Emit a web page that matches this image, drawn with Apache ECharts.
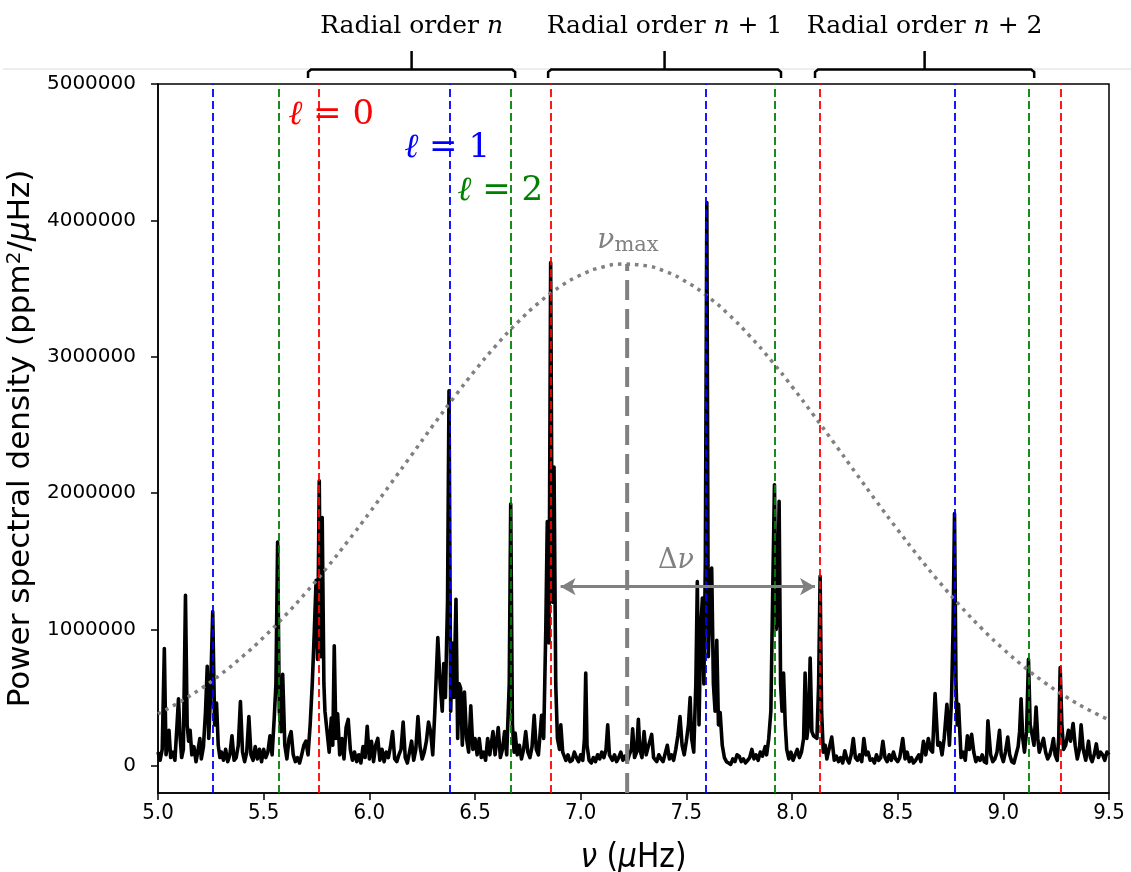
<!DOCTYPE html>
<html><head><meta charset="utf-8">
<script src="https://cdn.jsdelivr.net/npm/echarts@6/dist/echarts.min.js"></script>
<style>html,body{margin:0;padding:0;background:#fff;}#chart{width:1131px;height:872px;}</style>
</head><body><div id="chart"></div>
<script>
// ---- data ----
const spectrum = [
[5.000,10e4],[5.010,4e4],[5.020,12e4],[5.030,86e4],[5.038,8e4],[5.045,15e4],[5.052,26e4],[5.060,6e4],[5.070,10e4],[5.080,4e4],[5.090,30e4],[5.097,49e4],[5.105,20e4],[5.112,6e4],[5.120,12e4],[5.130,125e4],[5.138,30e4],[5.145,18e4],[5.152,26e4],[5.160,8e4],[5.170,14e4],[5.180,3e4],[5.190,12e4],[5.198,20e4],[5.205,5e4],[5.215,14e4],[5.225,40e4],[5.233,73e4],[5.240,20e4],[5.248,50e4],[5.259,113e4],[5.268,30e4],[5.277,46e4],[5.285,15e4],[5.293,6e4],[5.300,10e4],
[5.31,4e4],[5.32,12e4],[5.33,3e4],[5.34,8e4],[5.35,22e4],[5.36,4e4],[5.37,6e4],[5.38,15e4],[5.39,47e4],[5.40,10e4],[5.41,3e4],[5.42,10e4],[5.43,36e4],[5.44,8e4],[5.45,4e4],[5.46,14e4],[5.47,5e4],[5.48,12e4],[5.49,3e4],[5.50,12e4],[5.51,6e4],[5.52,10e4],[5.53,22e4],[5.54,8e4],[5.55,35e4],[5.558,60e4],[5.566,164e4],[5.574,40e4],[5.582,25e4],[5.59,67e4],[5.60,15e4],[5.61,5e4],[5.62,20e4],[5.63,25e4],[5.64,8e4],[5.65,3e4],[5.66,6e4],[5.67,2e4],[5.68,8e4],[5.69,15e4],[5.70,18e4],[5.71,8e4],[5.72,30e4],[5.73,60e4],[5.74,100e4],[5.748,136e4],[5.755,78e4],[5.763,209e4],[5.770,80e4],[5.777,182e4],[5.785,60e4],[5.79,40e4],[5.80,25e4],[5.81,10e4],[5.82,35e4],[5.827,15e4],[5.834,88e4],[5.842,20e4],[5.85,38e4],[5.86,8e4],[5.87,20e4],[5.88,5e4],[5.89,28e4],[5.90,34e4],[5.91,12e4],[5.92,4e4],[5.93,10e4],[5.94,3e4],[5.95,8e4],[5.96,2e4],[5.97,14e4],[5.98,6e4],[5.99,29e4],
[6.00,5e4],[6.01,18e4],[6.02,3e4],[6.03,15e4],[6.04,20e4],[6.05,4e4],[6.06,12e4],[6.07,3e4],[6.08,10e4],[6.09,6e4],[6.10,14e4],[6.11,25e4],[6.12,5e4],[6.13,3e4],[6.14,8e4],[6.15,12e4],[6.16,32e4],[6.17,6e4],[6.18,2e4],[6.19,10e4],[6.20,18e4],[6.21,4e4],[6.22,12e4],[6.23,36e4],[6.24,14e4],[6.25,5e4],[6.26,10e4],[6.27,18e4],[6.28,32e4],[6.29,25e4],[6.30,8e4],[6.31,40e4],[6.324,94e4],[6.335,60e4],[6.345,40e4],[6.352,75e4],[6.36,50e4],[6.37,120e4],[6.377,275e4],[6.385,40e4],[6.392,90e4],[6.40,50e4],[6.41,122e4],[6.418,20e4],[6.425,60e4],[6.432,57e4],[6.44,15e4],[6.45,54e4],[6.46,20e4],[6.47,10e4],[6.48,44e4],[6.49,12e4],[6.50,20e4],[6.51,8e4],[6.52,20e4],[6.53,6e4],[6.54,10e4],[6.55,4e4],[6.56,20e4],[6.57,8e4],[6.585,25e4],[6.595,8e4],[6.61,28e4],[6.62,6e4],[6.63,12e4],[6.64,25e4],[6.65,8e4],[6.662,60e4],[6.669,192e4],[6.677,30e4],[6.685,10e4],[6.69,24e4],[6.70,8e4],[6.71,15e4],[6.72,5e4],[6.73,12e4],[6.74,25e4],[6.75,10e4],[6.76,6e4],[6.77,14e4],[6.78,37e4],[6.79,12e4],[6.80,8e4],[6.815,37e4],[6.825,20e4],[6.835,100e4],[6.842,179e4],[6.85,90e4],[6.858,369e4],[6.866,120e4],[6.874,219e4],[6.882,60e4],[6.89,20e4],[6.90,12e4],[6.906,30e4],[6.915,10e4],[6.93,4e4],[6.94,8e4],[6.95,3e4],[6.96,4e4],[6.97,10e4],[6.98,6e4],[6.99,3e4],
[7.00,8e4],[7.01,4e4],[7.018,20e4],[7.024,68e4],[7.03,15e4],[7.04,4e4],[7.05,2e4],[7.06,6e4],[7.07,3e4],[7.08,8e4],[7.09,5e4],[7.10,10e4],[7.11,6e4],[7.12,12e4],[7.128,30e4],[7.136,8e4],[7.15,4e4],[7.16,8e4],[7.17,3e4],[7.18,6e4],[7.19,10e4],[7.20,4e4],[7.21,7e4],[7.22,3e4],[7.23,8e4],[7.24,12e4],[7.246,27e4],[7.255,6e4],[7.265,10e4],[7.273,34e4],[7.28,12e4],[7.29,6e4],[7.30,25e4],[7.31,8e4],[7.32,14e4],[7.336,23e4],[7.345,6e4],[7.36,3e4],[7.37,8e4],[7.38,5e4],[7.39,3e4],[7.40,9e4],[7.41,15e4],[7.42,5e4],[7.43,8e4],[7.44,4e4],[7.45,12e4],[7.46,22e4],[7.47,36e4],[7.48,15e4],[7.49,8e4],[7.50,18e4],[7.51,30e4],[7.518,50e4],[7.525,20e4],[7.535,10e4],[7.545,60e4],[7.552,135e4],[7.56,30e4],[7.568,100e4],[7.576,123e4],[7.583,60e4],[7.59,150e4],[7.597,413e4],[7.604,80e4],[7.612,120e4],[7.62,145e4],[7.628,60e4],[7.636,40e4],[7.644,92e4],[7.652,30e4],[7.66,39e4],[7.67,15e4],[7.68,6e4],[7.69,3e4],[7.70,2e4],[7.71,1e4],[7.72,5e4],[7.73,3e4],[7.74,8e4],[7.75,7e4],[7.76,3e4],[7.77,5e4],[7.78,2e4],[7.79,4e4],[7.80,6e4],[7.81,12e4],[7.82,5e4],[7.83,8e4],[7.84,4e4],[7.85,10e4],[7.86,7e4],[7.873,14e4],[7.88,8e4],[7.89,20e4],[7.90,40e4],[7.908,120e4],[7.917,206e4],[7.925,100e4],[7.932,110e4],[7.939,194e4],[7.946,60e4],[7.953,40e4],[7.96,68e4],[7.968,30e4],[7.975,12e4],[7.985,5e4],[7.995,10e4],
[8.005,4e4],[8.015,8e4],[8.025,12e4],[8.035,6e4],[8.045,10e4],[8.055,20e4],[8.062,68e4],[8.07,20e4],[8.078,30e4],[8.086,79e4],[8.094,25e4],[8.102,22e4],[8.11,22e4],[8.118,20e4],[8.126,60e4],[8.133,139e4],[8.14,40e4],[8.148,10e4],[8.157,15e4],[8.165,5e4],[8.175,12e4],[8.188,21e4],[8.20,4e4],[8.21,7e4],[8.22,3e4],[8.23,6e4],[8.24,2e4],[8.25,11e4],[8.26,5e4],[8.27,2e4],[8.28,8e4],[8.29,20e4],[8.30,6e4],[8.31,4e4],[8.32,8e4],[8.33,3e4],[8.34,20e4],[8.35,8e4],[8.36,10e4],[8.37,4e4],[8.38,5e4],[8.39,2e4],[8.40,8e4],[8.41,4e4],[8.42,6e4],[8.43,18e4],[8.44,6e4],[8.45,3e4],[8.46,8e4],[8.47,4e4],[8.48,10e4],[8.49,5e4],[8.50,3e4],[8.51,6e4],[8.524,20e4],[8.535,5e4],[8.545,10e4],[8.555,3e4],[8.565,6e4],[8.575,2e4],[8.585,4e4],[8.60,8e4],[8.61,3e4],[8.622,18e4],[8.633,8e4],[8.645,20e4],[8.655,12e4],[8.665,10e4],[8.677,53e4],[8.69,15e4],[8.70,17e4],[8.71,8e4],[8.72,20e4],[8.733,45e4],[8.745,15e4],[8.755,50e4],[8.762,100e4],[8.769,185e4],[8.776,60e4],[8.782,30e4],[8.788,45e4],[8.80,6e4],[8.81,10e4],[8.82,4e4],[8.83,22e4],[8.84,12e4],[8.85,23e4],[8.86,10e4],[8.87,3e4],[8.88,6e4],[8.89,4e4],[8.90,8e4],[8.91,3e4],[8.92,2e4],[8.927,33e4],[8.94,8e4],[8.95,3e4],[8.96,5e4],[8.97,10e4],[8.982,26e4],[8.99,8e4],
[9.00,3e4],[9.01,10e4],[9.021,21e4],[9.03,8e4],[9.04,3e4],[9.05,2e4],[9.06,8e4],[9.07,14e4],[9.077,25e4],[9.084,49e4],[9.092,20e4],[9.10,10e4],[9.11,25e4],[9.119,78e4],[9.127,30e4],[9.136,23e4],[9.145,15e4],[9.155,43e4],[9.163,20e4],[9.17,10e4],[9.18,15e4],[9.19,20e4],[9.20,10e4],[9.21,5e4],[9.22,8e4],[9.23,14e4],[9.237,20e4],[9.245,8e4],[9.255,4e4],[9.262,20e4],[9.269,72e4],[9.277,30e4],[9.285,12e4],[9.295,15e4],[9.308,26e4],[9.318,18e4],[9.33,31e4],[9.34,15e4],[9.35,5e4],[9.36,12e4],[9.368,30e4],[9.378,12e4],[9.39,4e4],[9.403,18e4],[9.412,6e4],[9.42,3e4],[9.43,8e4],[9.44,16e4],[9.45,6e4],[9.46,10e4],[9.47,8e4],[9.48,4e4],[9.49,10e4],[9.50,8e4]
];
const gaussFreq  = [5.0,5.1,5.2,5.3,5.4,5.5,5.6,5.7,5.8,5.9,6.0,6.1,6.2,6.3,6.4,6.5,6.6,6.7,6.8,6.9,7.0,7.1,7.2,7.3,7.4,7.5,7.6,7.7,7.8,7.9,8.0,8.1,8.2,8.3,8.4,8.5,8.6,8.7,8.8,8.9,9.0,9.1,9.2,9.3,9.4,9.5];
const gaussPower = [380e3,465e3,562e3,674e3,801e3,942e3,1099e3,1270e3,1454e3,1650e3,1854e3,2066e3,2279e3,2493e3,2700e3,2899e3,3083e3,3249e3,3393e3,3511e3,3599e3,3656e3,3679e3,3669e3,3626e3,3549e3,3443e3,3310e3,3152e3,2975e3,2781e3,2576e3,2365e3,2151e3,1938e3,1731e3,1531e3,1342e3,1166e3,1003e3,856e3,723e3,605e3,502e3,413e3,336e3];
const l0Freqs = [5.762, 6.860, 8.133, 9.269];
const l1Freqs = [5.256, 6.382, 7.593, 8.767];
const l2Freqs = [5.568, 6.675, 7.920, 9.122];
const numaxFreq = 7.22, numaxPower = 3.68e6;
const deltaNuFrom = 6.905, deltaNuTo = 8.109, deltaNuLevel = 1.313e6;
const xTickInterval = 0.5;
const yTicks = [0, 1000000, 2000000, 3000000, 4000000, 5000000];
const radialSuffix = ['', ' + 1', ' + 2'];
const radialFrom = [5.71, 6.846, 8.109];
const radialTo   = [6.69, 7.948, 9.146];

// ---- chart ----
const chart = echarts.init(document.getElementById('chart'), null, {renderer: 'canvas'});
const gaussData = gaussFreq.map((f, i) => [f, gaussPower[i]]);
const modeLines = []
  .concat(l0Freqs.map(f => ({xAxis: f, lineStyle: {color: '#ff0000'}})))
  .concat(l1Freqs.map(f => ({xAxis: f, lineStyle: {color: '#0000ff'}})))
  .concat(l2Freqs.map(f => ({xAxis: f, lineStyle: {color: '#008000'}})));
const serif = "'DejaVu Serif', serif";
const narrow = "'DejaVu Sans Condensed','Liberation Sans Narrow','DejaVu Sans',sans-serif";
const ellRich = c => ({i: {fontFamily: serif, fontStyle: 'italic', fontSize: 34, color: c, opacity: 1}});

const option = {
  animation: false,
  backgroundColor: '#fff',
  grid: {left: 158, right: 22, top: 84, bottom: 79, containLabel: false, outerBoundsMode: 'none',
    show: true, borderColor: '#000', borderWidth: 1.5, backgroundColor: 'transparent'},
  xAxis: {
    type: 'value', min: 5, max: 9.5, interval: xTickInterval,
    axisLine: {show: true, onZero: false, lineStyle: {color: '#000', width: 1.5}},
    axisTick: {show: true, inside: false, length: 7, lineStyle: {color: '#000', width: 1.5}},
    axisLabel: {color: '#000', fontSize: 22, margin: 9, fontFamily: narrow, formatter: v => v.toFixed(1)},
    splitLine: {show: false},
    name: '{i|ν} ({i|μ}Hz)', nameLocation: 'middle', nameGap: 49,
    nameTextStyle: {color: '#000', fontSize: 33, fontFamily: narrow,
      rich: {i: {fontStyle: 'italic', fontSize: 33, color: '#000', fontFamily: narrow}}}
  },
  yAxis: {
    type: 'value', min: -200000, max: 5000000,
    axisLine: {show: true, onZero: false, lineStyle: {color: '#000', width: 1.5}},
    axisTick: {show: true, length: 7, customValues: yTicks, lineStyle: {color: '#000', width: 1.5}},
    axisLabel: {color: '#000', fontSize: 20, margin: 22, fontFamily: "'DejaVu Sans',sans-serif", customValues: yTicks, formatter: v => String(v)},
    splitLine: {show: false},
    name: 'Power spectral density (ppm{s|2}/{i|μ}Hz)', nameLocation: 'middle', nameGap: 110,
    nameTextStyle: {color: '#000', fontSize: 31, fontFamily: "'DejaVu Sans',sans-serif",
      rich: {i: {fontStyle: 'italic', fontSize: 31, color: '#000', fontFamily: "'DejaVu Sans',sans-serif"},
             s: {fontSize: 20, color: '#000', verticalAlign: 'top', fontFamily: "'DejaVu Sans',sans-serif", padding: [0, 0, 12, 0]}}}
  },
  series: [
    {
      type: 'line', data: [], silent: true, z: 1,
      markLine: {silent: true, symbol: ['none', 'none'], label: {show: false},
        lineStyle: {type: [8, 4], width: 1.8}, data: modeLines}
    },
    {
      type: 'line', data: spectrum, showSymbol: false, z: 3, silent: true,
      lineStyle: {color: '#000', width: 3.6, join: 'round'}
    },
    {
      type: 'line', data: gaussData, smooth: true, showSymbol: false, z: 4, silent: true,
      lineStyle: {color: '#808080', width: 3.5, type: [3.5, 5]}
    },
    {
      type: 'line', data: [[numaxFreq, -200000], [numaxFreq, numaxPower]], showSymbol: false, z: 5, silent: true,
      lineStyle: {color: '#808080', width: 4, type: [20, 9]}
    },
    {
      type: 'line', data: [], z: 6, silent: true,
      markLine: {silent: true, symbol: ['arrow', 'arrow'], symbolSize: [13, 15], label: {show: false},
        lineStyle: {color: '#808080', width: 3, type: 'solid'},
        data: [[{coord: [deltaNuFrom, deltaNuLevel]}, {coord: [deltaNuTo, deltaNuLevel]}]]}
    },
    {
      type: 'scatter', symbolSize: 0, z: 7, silent: true, itemStyle: {opacity: 1},
      data: [
        {value: [5.819, 4.77e6], label: {formatter: '{i|ℓ} = 0', color: '#ff0000', rich: ellRich('#ff0000')}},
        {value: [6.368, 4.527e6], label: {formatter: '{i|ℓ} = 1', color: '#0000ff', rich: ellRich('#0000ff')}},
        {value: [6.619, 4.211e6], label: {formatter: '{i|ℓ} = 2', color: '#008000', rich: ellRich('#008000')}},
        {value: [7.224, 3.85e6], label: {formatter: '{v|ν}{s|max}', color: '#808080',
          rich: {v: {fontFamily: serif, fontStyle: 'italic', fontSize: 28, color: '#808080'},
                 s: {fontFamily: serif, fontSize: 21, color: '#808080', padding: [10, 0, 0, 0]}}}},
        {value: [7.451, 1.5e6], label: {formatter: 'Δ{v|ν}', color: '#808080', fontSize: 27, fontFamily: serif,
          rich: {v: {fontFamily: serif, fontStyle: 'italic', fontSize: 27, color: '#808080'}}}}
      ],
      label: {show: true, position: 'inside', fontFamily: serif, fontSize: 34, opacity: 1}
    }
  ]
};
chart.setOption(option);

// ---- "Radial order" brackets above the plot ----
const px = x => chart.convertToPixel({gridIndex: 0}, [x, 0])[0];
const graphics = [
  {type: 'line', shape: {x1: 3, y1: 69, x2: 1131, y2: 69}, style: {stroke: '#dcdcdc', lineWidth: 1}, z: 0}
];
radialFrom.forEach((f, i) => {
  const a = px(f), b = px(radialTo[i]), c = (a + b) / 2;
  graphics.push({type: 'polyline', shape: {points: [[a, 78], [a, 72], [a + 3, 69.5], [b - 3, 69.5], [b, 72], [b, 78]]},
    style: {stroke: '#000', lineWidth: 2.5, fill: null}, z: 10});
  graphics.push({type: 'line', shape: {x1: c, y1: 69.5, x2: c, y2: 51}, style: {stroke: '#000', lineWidth: 2.5}, z: 10});
  graphics.push({type: 'text', x: c, y: 26, z: 10, style: {
    text: 'Radial order {i|n}' + radialSuffix[i], fill: '#000', font: "25px 'DejaVu Serif', serif",
    align: 'center', verticalAlign: 'middle',
    rich: {i: {fontStyle: 'italic', fontSize: 25, fontFamily: serif, fill: '#000'}}}});
});
chart.setOption({graphic: graphics});
</script>
</body></html>
